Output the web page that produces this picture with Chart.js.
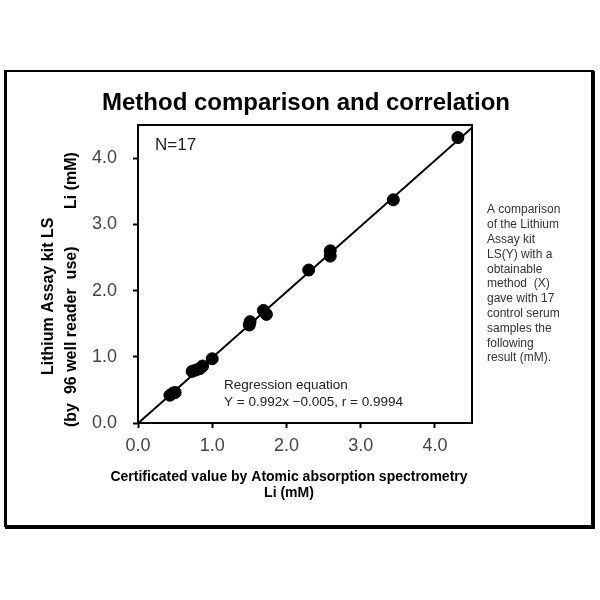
<!DOCTYPE html>
<html lang="en">

<head>
    <meta charset="UTF-8">
    <title>Method comparison and correlation</title>
    <script src="https://cdn.jsdelivr.net/npm/chart.js"></script>
</head>
<style>
    html, body {
        margin: 0;
        padding: 0;
        background: #fff;
    }

    .chartBox {
        width: 600px;
        height: 600px;
    }
</style>

<body>
    <div class="chartBox">
        <canvas id="corr"></canvas>
    </div>
</body>

</html>
<script>

    // data
    const xValues = [0.43, 0.47, 0.50, 0.73, 0.78, 0.83, 0.87, 1.00, 1.50, 1.51, 1.69, 1.73, 2.30, 2.59, 2.59, 3.44, 4.31];
    const yValues = [0.42, 0.45, 0.46, 0.78, 0.80, 0.82, 0.86, 0.97, 1.48, 1.53, 1.70, 1.64, 2.31, 2.52, 2.60, 3.37, 4.31];
    const slope = 0.992;
    const intercept = -0.005;
    const lineRange = [0, 4.5];
    const tickValues = [0, 1, 2, 3, 4];
    const tickLabels = ["0.0", "1.0", "2.0", "3.0", "4.0"];
    const noteLines = ["A comparison", "of the Lithium", "Assay kit", "LS(Y) with a", "obtainable",
        "method  (X)", "gave with 17", "control serum", "samples the", "following", "result (mM)."];

    const FONT = "'Liberation Sans', Arial, sans-serif";

    window.onload = draw();

    function draw() {

        const points = xValues.map((x, i) => ({ x: x, y: yValues[i] }));
        const regLine = lineRange.map(x => ({ x: x, y: slope * x + intercept }));

        const data = {
            datasets: [
                {
                    type: "line",
                    label: "Regression",
                    data: regLine,
                    borderColor: "#000",
                    borderWidth: 2,
                    pointRadius: 0,
                    fill: false,
                },
                {
                    type: "scatter",
                    label: "Samples",
                    data: points,
                    backgroundColor: "#000",
                    borderColor: "#000",
                    pointRadius: 6,
                    pointHoverRadius: 6,
                },
            ],
        };

        function tickSet(scale) {
            scale.ticks = tickValues.map(v => ({ value: v }));
        }

        // texts, frame around the plot and the outer box
        const decorations = {
            id: "decorations",
            beforeDraw(chart) {
                const ctx = chart.ctx;
                ctx.save();
                ctx.fillStyle = "#fff";
                ctx.fillRect(0, 0, chart.width, chart.height);
                ctx.restore();
            },
            afterDraw(chart) {
                const { ctx, chartArea: { top, right, bottom, left } } = chart;
                ctx.save();

                // plot frame
                ctx.strokeStyle = "#000";
                ctx.lineWidth = 2;
                ctx.strokeRect(left, top, right - left, bottom - top);

                // outer box
                ctx.lineWidth = 2;
                ctx.strokeRect(5, 71, 588, 455);
                ctx.lineWidth = 4;
                ctx.beginPath();
                ctx.moveTo(593, 71);
                ctx.lineTo(593, 527);
                ctx.lineTo(5, 527);
                ctx.stroke();
                ctx.lineWidth = 3;
                ctx.beginPath();
                ctx.moveTo(5.5, 71);
                ctx.lineTo(5.5, 527);
                ctx.stroke();

                ctx.fillStyle = "#000";
                ctx.textBaseline = "middle";

                // title
                ctx.font = "bold 24px " + FONT;
                ctx.textAlign = "center";
                ctx.fillText("Method comparison and correlation", 306, 103);

                // N and regression text
                ctx.textAlign = "left";
                ctx.fillStyle = "#222";
                ctx.font = "17px " + FONT;
                ctx.fillText("N=17", 155, 145);
                ctx.font = "13.5px " + FONT;
                ctx.fillText("Regression equation", 224, 385);
                ctx.fillText("Y = 0.992x \u22120.005, r = 0.9994", 224, 402);

                // x title
                ctx.fillStyle = "#000";
                ctx.textAlign = "center";
                ctx.font = "bold 14px " + FONT;
                ctx.fillText("Certificated value by Atomic absorption spectrometry", 289, 477);
                ctx.fillText("Li (mM)", 289, 493);

                // y title, rotated
                ctx.font = "bold 16px " + FONT;
                ctx.textAlign = "left";
                ctx.save();
                ctx.translate(49, 375);
                ctx.rotate(-Math.PI / 2);
                ctx.fillText("Lithium Assay kit LS", 0, 0);
                ctx.restore();
                ctx.save();
                ctx.translate(72, 427);
                ctx.rotate(-Math.PI / 2);
                ctx.fillText("(by  96 well reader  use)", 0, 0);
                ctx.restore();
                ctx.save();
                ctx.translate(72, 209);
                ctx.rotate(-Math.PI / 2);
                ctx.fillText("Li (mM)", 0, 0);
                ctx.restore();

                // note at the right
                ctx.fillStyle = "#333";
                ctx.font = "12px " + FONT;
                noteLines.forEach((t, i) => {
                    ctx.fillText(t, 487, 210 + i * 14.8);
                });

                ctx.restore();
            },
        };

        const config = {
            data,
            options: {
                responsive: false,
                animation: false,
                layout: {
                    padding: { top: 125, right: 128, bottom: 0, left: 0 },
                },
                plugins: {
                    legend: { display: false },
                    tooltip: { enabled: false },
                },
                scales: {
                    x: {
                        type: "linear",
                        min: 0,
                        max: 4.5,
                        afterBuildTicks: tickSet,
                        afterFit(scale) { scale.height = 177; },
                        grid: {
                            drawOnChartArea: false,
                            drawTicks: true,
                            tickLength: 5,
                            tickWidth: 2,
                            tickColor: "#000",
                        },
                        border: { display: true, color: "#000", width: 2 },
                        ticks: {
                            padding: 7,
                            color: "#444",
                            font: { family: FONT, size: 18 },
                            maxRotation: 0,
                            callback: (v) => tickLabels[tickValues.indexOf(v)],
                        },
                    },
                    y: {
                        type: "linear",
                        min: 0,
                        max: 4.5,
                        afterBuildTicks: tickSet,
                        afterFit(scale) { scale.width = 138; },
                        grid: {
                            drawOnChartArea: false,
                            drawTicks: true,
                            tickLength: 5,
                            tickWidth: 2,
                            tickColor: "#000",
                        },
                        border: { display: true, color: "#000", width: 2 },
                        ticks: {
                            padding: 16,
                            color: "#444",
                            font: { family: FONT, size: 18 },
                            callback: (v) => tickLabels[tickValues.indexOf(v)],
                        },
                    },
                },
            },
            plugins: [decorations],
        };

        const canvas = document.getElementById("corr");
        canvas.width = 600;
        canvas.height = 600;
        new Chart(canvas, config);
    }

</script>
